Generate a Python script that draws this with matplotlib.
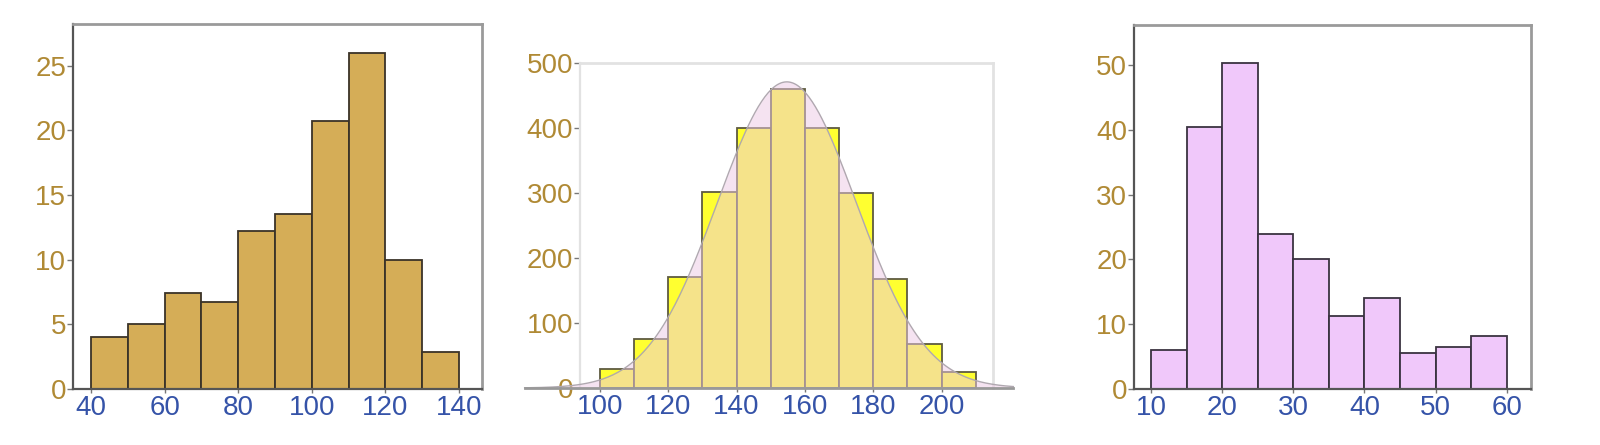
import numpy as np
import matplotlib.pyplot as plt

plt.rcParams['font.family'] = ['Liberation Sans', 'DejaVu Sans']

# 左图: 10 宽的分箱
left_edges = [40, 50, 60, 70, 80, 90, 100, 110, 120, 130, 140]
left_counts = [4, 5, 7.4, 6.7, 12.2, 13.5, 20.7, 26, 10, 2.85]

# 中图: 近似正态
mid_edges = [100, 110, 120, 130, 140, 150, 160, 170, 180, 190, 200, 210]
mid_counts = [29, 75, 171, 302, 400, 460, 400, 300, 168, 68, 24]

# 右图: 5 宽的分箱
right_edges = [10, 15, 20, 25, 30, 35, 40, 45, 50, 55, 60]
right_counts = [6, 40.4, 50.3, 23.9, 20, 11.3, 14, 5.6, 6.5, 8.2]

YCOL = '#b08a35'
XCOL = '#3553a8'
FS = 20

fig = plt.figure(figsize=(16, 4.45), dpi=100)


def style(ax, frame_col, axis_col):
    for side in ['top', 'right']:
        ax.spines[side].set_color(frame_col)
        ax.spines[side].set_linewidth(2)
    for side in ['left', 'bottom']:
        ax.spines[side].set_color(axis_col)
        ax.spines[side].set_linewidth(1.6)
    ax.tick_params(axis='y', colors='#777777', labelcolor=YCOL, labelsize=FS,
                   length=4, width=1, pad=1)
    ax.tick_params(axis='x', colors='#777777', labelcolor=XCOL, labelsize=FS,
                   length=3, width=1, pad=1)


def bars(ax, edges, counts, color, edge):
    edges = np.array(edges)
    ax.bar(edges[:-1], counts, width=np.diff(edges), align='edge',
           color=color, edgecolor=edge, linewidth=1.3, zorder=2)


# ---- 左 ----
ax1 = fig.add_axes([0.0456, 0.1258, 0.2556, 0.820])
bars(ax1, left_edges, left_counts, '#d5ad57', '#3a3328')
ax1.set_xlim(35.1, 146.2)
ax1.set_ylim(0, 28.2)
ax1.set_xticks([40, 60, 80, 100, 120, 140])
ax1.set_yticks([0, 5, 10, 15, 20, 25])
style(ax1, '#9a9a9a', '#555555')

# ---- 中 ----
ax2 = fig.add_axes([0.3625, 0.128, 0.258, 0.730])
bars(ax2, mid_edges, mid_counts, '#ffff30', '#5e5a40')
# 按数据拟合正态曲线
mids = (np.array(mid_edges[:-1]) + np.array(mid_edges[1:])) / 2
w = np.array(mid_counts)
n = w.sum()
mu = (mids * w).sum() / n
sd = np.sqrt(((mids - mu) ** 2 * w).sum() / n)
bw = 10
xs = np.linspace(78, 221, 300)
ys = n * bw / (sd * np.sqrt(2 * np.pi)) * np.exp(-(xs - mu) ** 2 / (2 * sd ** 2))
ax2.fill_between(xs, 0, ys, color='#ecc8e4', alpha=0.5, zorder=3,
                 linewidth=0, clip_on=False)
ax2.plot(xs, ys, color='#b0a8b0', linewidth=1, zorder=4, clip_on=False)
ax2.plot([78, 221], [0, 0], color='#999999', linewidth=2, zorder=4,
         clip_on=False)
ax2.set_xlim(94.2, 215)
ax2.set_ylim(0, 500)
ax2.set_xticks([100, 120, 140, 160, 180, 200])
ax2.set_yticks([0, 100, 200, 300, 400, 500])
style(ax2, '#e2e2e2', '#e2e2e2')
ax2.spines['bottom'].set_visible(False)

# ---- 右 ----
ax3 = fig.add_axes([0.70875, 0.1258, 0.248, 0.818])
bars(ax3, right_edges, right_counts, '#f0c8fa', '#3a3340')
ax3.set_xlim(7.6, 63.4)
ax3.set_ylim(0, 56.2)
ax3.set_xticks([10, 20, 30, 40, 50, 60])
ax3.set_yticks([0, 10, 20, 30, 40, 50])
style(ax3, '#9a9a9a', '#555555')

fig.savefig('out.png', dpi=100)
